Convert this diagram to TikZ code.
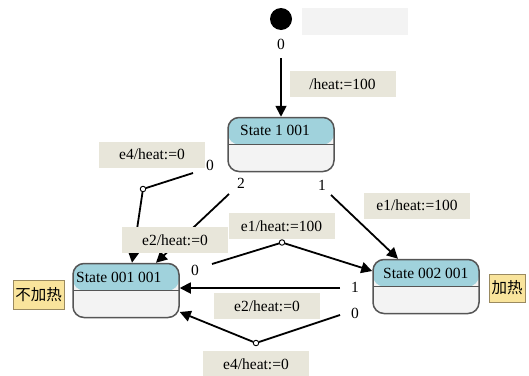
\documentclass[tikz,border=0pt]{standalone}
\usepackage{fontspec}
\setmainfont{Liberation Serif}
\newfontfamily\cjkfont{Noto Sans CJK SC}
\usetikzlibrary{arrows.meta}
\definecolor{headblue}{HTML}{A0D2DC}
\definecolor{lowgray}{HTML}{F3F3F3}
\definecolor{stateborder}{HTML}{555555}
\definecolor{labelfill}{HTML}{E8E6DA}
\definecolor{notegray}{HTML}{F3F3F3}
\definecolor{yellowfill}{HTML}{F9E49C}
\definecolor{yellowborder}{HTML}{9A8A60}
\begin{document}
\begin{tikzpicture}[x=1pt,y=-1pt,
  font=\fontsize{15.5}{18}\selectfont,
  statebox/.style={draw=stateborder, line width=1.5pt, rounded corners=11pt,
    fill=lowgray, minimum width=106pt, minimum height=54pt, inner sep=0pt,
    path picture={\fill[headblue] (path picture bounding box.north west) rectangle (path picture bounding box.east);
      \draw[stateborder, line width=1.5pt] (path picture bounding box.west) -- (path picture bounding box.east);}},
  stname/.style={anchor=base west, inner sep=0pt},
  labelbox/.style={fill=labelfill, minimum width=106pt, minimum height=26pt, inner sep=0pt},
  idx/.style={inner sep=0pt},
  edge/.style={line width=1.8pt, black},
  arr/.style={edge, -{Triangle[length=11pt,width=11pt]}},
  junction/.style={circle, draw=black, fill=white, line width=0.9pt, inner sep=0pt, minimum size=5.5pt},
  notebox/.style={draw=yellowborder, fill=yellowfill, line width=0.8pt, inner sep=0pt, font=\cjkfont\fontsize{15.5}{18}\selectfont}
]
\useasboundingbox (0,0) rectangle (529,375);

% initial pseudo state
\node[circle, fill=black, minimum size=22pt, inner sep=0pt] (init) at (281,19) {};
\node[fill=notegray, minimum width=106pt, minimum height=27pt, inner sep=0pt] (topnote) at (355,21.5) {};
\node[idx] (z0) at (281,44) {0};

% states
\node[statebox] (s1) at (281,144.5) {};
\node[stname] (s1t) at (240,135) {State 1 001};
\node[statebox] (s001) at (126,290.5) {};
\node[stname] (s001t) at (76,282) {State 001 001};
\node[statebox] (s002) at (426,286.5) {};
\node[stname] (s002t) at (383,278) {State 002 001};

% yellow notes
\node[notebox, minimum width=51pt, minimum height=29pt] (n1) at (38.5,294.5) {不加热};
\node[notebox, minimum width=36pt, minimum height=28pt] (n2) at (507,288) {加热};

% index labels
\node[idx] (i1a) at (210,165) {0};
\node[idx] (i1b) at (241,183) {2};
\node[idx] (i1c) at (322,185) {1};
\node[idx] (i2a) at (195,270) {0};
\node[idx] (i3a) at (355,287) {1};
\node[idx] (i3b) at (355,313) {0};

% start coordinates
\coordinate (c0) at (281,58);
\coordinate (c1) at (193,173);
\coordinate (c2) at (229,194);
\coordinate (c3) at (331,195);
\coordinate (c4) at (212,264);
\coordinate (c5) at (340,288);
\coordinate (c6) at (340,315);

% junctions
\node[junction] (j1) at (143,189) {};
\node[junction] (j2) at (282,242.5) {};
\node[junction] (j3) at (256,343) {};

% connectors
\draw[arr] (c0) -- (s1.north);
\draw[edge] (c1) -- (j1);
\draw[arr] (j1) -- ([xshift=6pt]s001.north);
\draw[arr] (c2) -- ([xshift=30pt]s001.north);
\draw[arr] (c3) -- ([xshift=-28pt]s002.north);
\draw[edge] (c4) -- (j2);
\draw[arr] (j2) -- ([yshift=15.5pt]s002.west);
\draw[arr] (c5) -- ([yshift=2.5pt]s001.east);
\draw[edge] (c6) -- (j3);
\draw[arr] (j3) -- ([yshift=-21.5pt]s001.east);

% transition labels
\node[labelbox] (l0) at (342.5,84) {/heat:=100};
\node[labelbox] (l1) at (152,154.5) {e4/heat:=0};
\node[labelbox] (l2) at (175,240) {e2/heat:=0};
\node[labelbox] (l3) at (281.5,226) {e1/heat:=100};
\node[labelbox] (l4) at (417,205.5) {e1/heat:=100};
\node[labelbox] (l5) at (267,306) {e2/heat:=0};
\node[labelbox] (l6) at (256,364) {e4/heat:=0};
\end{tikzpicture}
\end{document}
